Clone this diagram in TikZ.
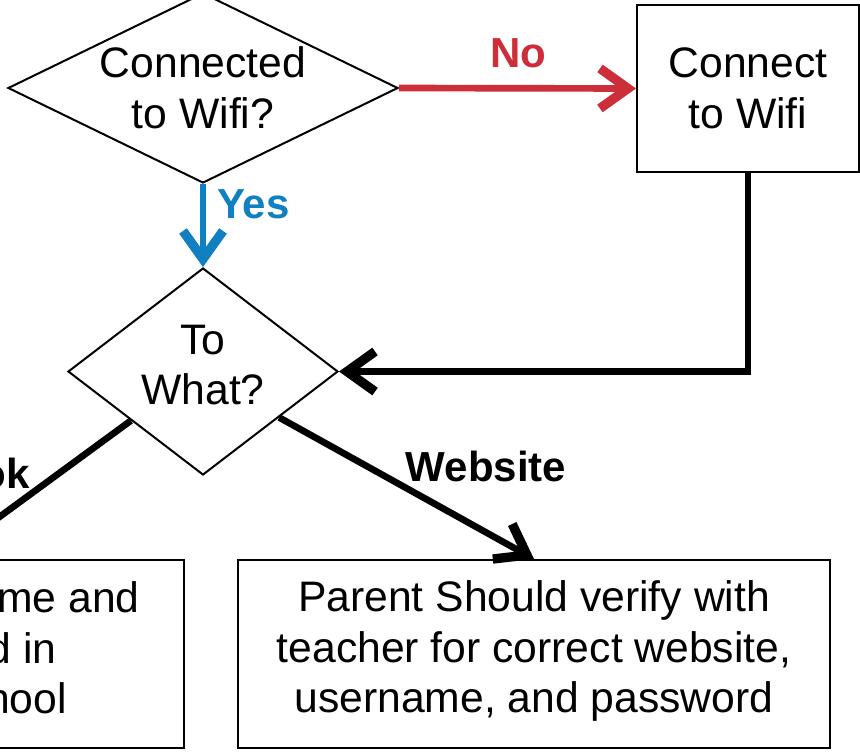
\documentclass[tikz,border=0pt]{standalone}
\usepackage{fontspec}
\setmainfont{Liberation Sans}
\usetikzlibrary{arrows.meta,shapes.geometric,calc}
\definecolor{noRed}{RGB}{204,46,58}
\definecolor{yesBlue}{RGB}{16,128,192}
\begin{document}
\begin{tikzpicture}[x=0.75pt,y=-0.75pt,
  txt/.style={font=\fontsize{32}{38}\selectfont, align=center, inner sep=0pt},
  shapebox/.style={txt, draw=black, line width=1.5pt, fill=white},
  decision/.style={shapebox, shape=diamond},
  stepbox/.style={shapebox, rectangle},
  lbl/.style={font=\fontsize{31.5}{36}\selectfont\bfseries, inner sep=0pt},
  arr/.style={line width=5pt, -{Straight Barb[length=21pt,width=30pt,line width=7pt,line cap=butt,line join=miter]}},
  plain/.style={line width=5pt}]
\useasboundingbox (0,0) rectangle (860,751);
\clip (0,0) rectangle (860,751);
\fill[white] (0,0) rectangle (860,751);

\node[decision, aspect=2.05, minimum width=292.5pt, minimum height=142.5pt] (d1) at (203,88) {Connected\\to Wifi?};
\node[decision, aspect=1.3, minimum width=202.5pt, minimum height=155.25pt] (d2) at (203,371.5) {};
\node[txt] (d2t) at (203,365) {To\\What?};
\node[stepbox, minimum width=166.5pt, minimum height=125.25pt] (cw) at (748,88.5) {Connect\\to Wifi};
\node[stepbox, minimum width=444pt, minimum height=141pt] (rb) at (534,654) {};
\node[txt] (rbt) at (534,651) {Parent Should verify with\\teacher for correct website,\\username, and password};
\node[stepbox, minimum width=363pt, minimum height=141pt] (lb) at (-58,654) {};
\node[txt, anchor=base east] (lb1) at (140,612) {me and};
\node[txt, anchor=base east] (lb2) at (57,663) {d in};
\node[txt, anchor=base east] (lb3) at (67,713) {hool};

\draw[arr, noRed] (d1.east) -- (cw.west);
\draw[arr, yesBlue] (d1.south) -- (d2.north);
\draw[arr, black] (cw.south) |- (d2.east);
\draw[arr, black] ($(d2.east)!0.44!(d2.south)$) -- (rb.north);
\draw[arr, black] ($(d2.west)!0.47!(d2.south)$) -- (lb.north);

\node[lbl, text=noRed, anchor=base] (lno) at (518,67) {No};
\node[lbl, text=yesBlue, anchor=base west] (lyes) at (217,218) {Yes};
\node[lbl, anchor=base] (lweb) at (486,481) {Website};
\node[lbl, anchor=base east] (lfb) at (30,488) {ok};
\end{tikzpicture}
\end{document}
